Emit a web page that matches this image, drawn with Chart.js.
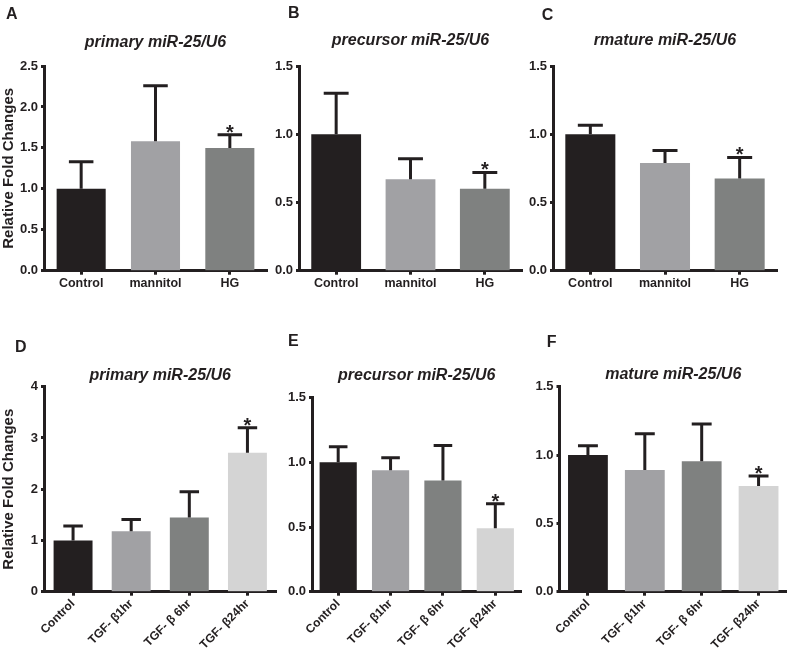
<!DOCTYPE html>
<html>
<head>
<meta charset="utf-8">
<script src="https://cdn.jsdelivr.net/npm/chart.js@4.4.1/dist/chart.umd.min.js"></script>
<style>
  html, body { margin: 0; padding: 0; background: #ffffff; }
  #wrap { position: relative; width: 787px; height: 653px; overflow: hidden; background: #fff; }
  canvas { position: absolute; }
  .letter { position: absolute; font-family: 'Liberation Sans', Arial, sans-serif; font-weight: bold; font-size: 16px; line-height: 16px; color: #231f20; }
</style>
</head>
<body>
<div id="wrap"></div>
<script>
// ---------------- data ----------------
const panelLetters = ['A', 'B', 'C', 'D', 'E', 'F'];
const panelTitles = ['primary miR-25/U6', 'precursor miR-25/U6', 'rmature miR-25/U6',
                     'primary miR-25/U6', 'precursor miR-25/U6', 'mature miR-25/U6'];
const yAxisTitle = 'Relative Fold Changes';

const categoriesTop = ['Control', 'mannitol', 'HG'];
const categoriesBottom = ['Control', 'TGF- β1hr', 'TGF- β 6hr', 'TGF- β24hr'];

const meanA = [1.00, 1.58, 1.50];
const errA  = [0.33, 0.68, 0.16];
const sigA  = [false, false, true];

const meanB = [1.00, 0.67, 0.60];
const errB  = [0.30, 0.15, 0.12];
const sigB  = [false, false, true];

const meanC = [1.00, 0.79, 0.675];
const errC  = [0.065, 0.09, 0.155];
const sigC  = [false, false, true];

const meanD = [1.00, 1.18, 1.45, 2.71];
const errD  = [0.28, 0.23, 0.50, 0.49];
const sigD  = [false, false, false, true];

const meanE = [1.00, 0.94, 0.86, 0.49];
const errE  = [0.12, 0.095, 0.27, 0.19];
const sigE  = [false, false, false, true];

const meanF = [1.00, 0.89, 0.955, 0.773];
const errF  = [0.068, 0.265, 0.272, 0.073];
const sigF  = [false, false, false, true];

// y-axis ranges (max, step, decimals)
const yMaxes = [2.5, 1.5, 1.5, 4, 1.5, 1.5];
const ySteps = [0.5, 0.5, 0.5, 1, 0.5, 0.5];
const yDecimals = [1, 1, 1, 0, 1, 1];

const barColorsTop = ['#231f20', '#a1a1a4', '#7f8180'];
const barColorsBottom = ['#231f20', '#a1a1a4', '#7f8180', '#d4d4d4'];

// ---------------- layout (positions / sizes) ----------------
const INK = '#231f20';
const layoutSpec = [
  { l: 0,   t: 0,   w: 268, h: 300, yw: 44,   pr: 1,   tpt: 33.4, tpb: 13.4, xh: 29.3, bp: 0.66 },
  { l: 268, t: 0,   w: 255, h: 300, yw: 31,   pr: 1,   tpt: 31.4, tpb: 15.4, xh: 29.3, bp: 0.67 },
  { l: 523, t: 0,   w: 264, h: 300, yw: 30,   pr: 10,  tpt: 31.4, tpb: 15.4, xh: 29.3, bp: 0.67 },
  { l: 0,   t: 310, w: 277, h: 343, yw: 44,   pr: 0.5, tpt: 56.4, tpb: 1.1,  xh: 61.3, bp: 0.67 },
  { l: 277, t: 310, w: 245, h: 343, yw: 35,   pr: 0.5, tpt: 56.4, tpb: 12.1, xh: 61.3, bp: 0.71 },
  { l: 522, t: 310, w: 265, h: 343, yw: 37.5, pr: 0,   tpt: 55.4, tpb: 2.1,  xh: 61.3, bp: 0.70 }
];
const letterPos = [ [6, 6.3], [288, 5.3], [541.7, 7.3], [15, 338.7], [288, 333], [546.7, 333.7] ];

const panels = [
  { cats: categoriesTop, mean: meanA, err: errA, sig: sigA, colors: barColorsTop, yTitle: true },
  { cats: categoriesTop, mean: meanB, err: errB, sig: sigB, colors: barColorsTop, yTitle: false },
  { cats: categoriesTop, mean: meanC, err: errC, sig: sigC, colors: barColorsTop, yTitle: false },
  { cats: categoriesBottom, mean: meanD, err: errD, sig: sigD, colors: barColorsBottom, yTitle: true },
  { cats: categoriesBottom, mean: meanE, err: errE, sig: sigE, colors: barColorsBottom, yTitle: false },
  { cats: categoriesBottom, mean: meanF, err: errF, sig: sigF, colors: barColorsBottom, yTitle: false }
];

// ---------------- error bar + significance plugin ----------------
const errorBarPlugin = {
  id: 'errorBars',
  afterDatasetsDraw(chart) {
    const ctx = chart.ctx;
    const yScale = chart.scales.y;
    const meta = chart.getDatasetMeta(0);
    const ds = chart.data.datasets[0];
    ctx.save();
    ctx.strokeStyle = INK;
    ctx.fillStyle = INK;
    ctx.lineWidth = 3;
    ctx.lineCap = 'butt';
    meta.data.forEach((el, i) => {
      const top = yScale.getPixelForValue(ds.data[i] + ds.errors[i]);
      const half = el.width / 4;
      ctx.beginPath();
      ctx.moveTo(el.x, el.y);
      ctx.lineTo(el.x, top);
      ctx.moveTo(el.x - half, top);
      ctx.lineTo(el.x + half, top);
      ctx.stroke();
      if (ds.significant[i]) {
        ctx.font = 'bold 20px "Liberation Sans", Arial, sans-serif';
        ctx.textAlign = 'center';
        ctx.textBaseline = 'alphabetic';
        ctx.fillText('*', el.x, top + 4);
      }
    });
    ctx.restore();
  }
};

const wrap = document.getElementById('wrap');

panels.forEach((p, idx) => {
  const L = layoutSpec[idx];
  const cv = document.createElement('canvas');
  cv.width = L.w; cv.height = L.h;
  cv.style.left = L.l + 'px'; cv.style.top = L.t + 'px';
  cv.style.width = L.w + 'px'; cv.style.height = L.h + 'px';
  wrap.appendChild(cv);

  const lt = document.createElement('div');
  lt.className = 'letter';
  lt.textContent = panelLetters[idx];
  lt.style.left = letterPos[idx][0] + 'px';
  lt.style.top = letterPos[idx][1] + 'px';
  wrap.appendChild(lt);

  const rotated = p.cats.length === 4;
  const dec = yDecimals[idx];

  new Chart(cv, {
    type: 'bar',
    data: {
      labels: p.cats,
      datasets: [{
        data: p.mean,
        errors: p.err,
        significant: p.sig,
        backgroundColor: p.colors,
        borderWidth: 0,
        barPercentage: L.bp,
        categoryPercentage: 1.0
      }]
    },
    options: {
      responsive: false,
      devicePixelRatio: 1,
      animation: false,
      events: [],
      layout: { padding: { left: 0, right: L.pr, top: 0, bottom: 0 } },
      plugins: {
        legend: { display: false },
        tooltip: { enabled: false },
        title: {
          display: true,
          text: panelTitles[idx],
          fullSize: false,
          color: INK,
          font: { family: '"Liberation Sans", Arial, sans-serif', size: 16, weight: 'bold', style: 'italic', lineHeight: 1.2 },
          padding: { top: L.tpt, bottom: L.tpb }
        }
      },
      scales: {
        x: {
          z: 1,
          offset: true,
          grid: { display: true, drawOnChartArea: false, drawTicks: true, offset: false,
                  tickLength: 4, tickWidth: 3, tickColor: INK },
          border: { display: true, width: 3, color: INK },
          ticks: {
            color: INK,
            padding: 1,
            autoSkip: false,
            minRotation: rotated ? 45 : 0,
            maxRotation: rotated ? 45 : 0,
            font: { family: '"Liberation Sans", Arial, sans-serif', size: rotated ? 12 : 12.5, weight: 'bold' }
          },
          afterFit(scale) { scale.height = L.xh; }
        },
        y: {
          z: 1,
          min: 0,
          max: yMaxes[idx],
          grid: { display: true, drawOnChartArea: false, drawTicks: true,
                  tickLength: 3, tickWidth: 3, tickColor: INK },
          border: { display: true, width: 3, color: INK },
          ticks: {
            stepSize: ySteps[idx],
            color: INK,
            padding: 3,
            font: { family: '"Liberation Sans", Arial, sans-serif', size: 13, weight: 'bold' },
            callback: (v) => Number(v).toFixed(dec)
          },
          title: {
            display: p.yTitle,
            text: yAxisTitle,
            color: INK,
            padding: 0,
            font: { family: '"Liberation Sans", Arial, sans-serif', size: 15, weight: 'bold' }
          },
          afterFit(scale) { scale.width = L.yw; }
        }
      }
    },
    plugins: [errorBarPlugin]
  });
});
</script>
</body>
</html>
